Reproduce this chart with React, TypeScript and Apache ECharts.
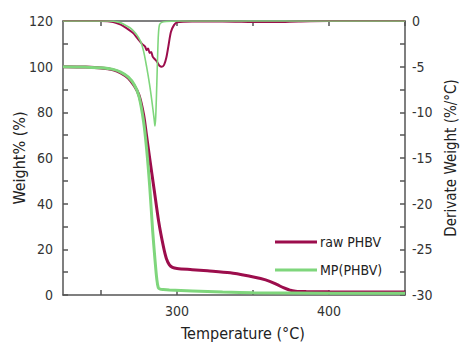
import React, { useEffect, useRef } from "react";
import * as echarts from "echarts";

const rawTGT = [225, 240, 250, 258, 263, 268, 272, 275, 278, 280, 282, 285, 288, 291, 293, 295, 297, 300, 310, 320, 335, 348, 355, 361, 366, 370, 374, 378, 385, 400, 450];
const rawTGW = [100, 99.8, 99.4, 98.6, 97.3, 95, 91.5, 87.5, 79, 69.6, 60, 46, 32, 21.4, 16, 13.2, 12.1, 11.6, 11.1, 10.6, 9.7, 8.2, 7.2, 6.0, 4.5, 3.2, 2.2, 1.7, 1.5, 1.4, 1.3];

const mpTGT = [225, 240, 250, 258, 263, 268, 272, 275, 278, 280, 282, 284, 285.5, 286.7, 287.7, 289, 291, 295, 310, 330, 350, 400, 450];
const mpTGW = [100, 99.8, 99.5, 98.8, 97.6, 95.4, 92, 87, 76, 64, 48, 28, 15.6, 7, 3.2, 2.6, 2.4, 2.2, 1.8, 1.3, 1.0, 0.8, 0.8];

const rawDTGT = [225, 250, 258, 263, 267, 271, 274, 277, 279, 280, 281, 282, 283, 284, 285.5, 287, 288.5, 290, 291.5, 293, 294.5, 296, 298, 300, 310, 330, 350, 365, 380, 400, 450];
const rawDTGD = [0, 0, -0.1, -0.4, -0.8, -1.3, -1.9, -2.5, -2.8, -3.2, -3.0, -3.5, -3.4, -3.9, -4.2, -4.5, -4.9, -5.0, -4.8, -4.0, -2.6, -1.2, -0.45, -0.15, -0.05, -0.05, -0.1, -0.12, -0.05, 0, 0];

const mpDTGT = [225, 255, 262, 266, 270, 273, 276, 278, 280, 282, 283.5, 285, 285.5, 286, 286.7, 287.3, 287.8, 288.5, 290, 293, 300, 450];
const mpDTGD = [0, 0, -0.15, -0.45, -0.85, -1.4, -2.2, -3.3, -5.0, -7.0, -8.8, -10.8, -11.5, -10.5, -7, -3.5, -1.4, -0.4, -0.15, -0.05, 0, 0];

const xTicks = [250, 300, 350, 400, 450];
const xLabels = [300, 400];

const RAW = "#9c0d4c";
const MP = "#7fd67c";
const FONT = "'DejaVu Sans Condensed', Roboto, sans-serif";
const AX = "#555";

const zip = (a: number[], b: number[]) => a.map((v, i) => [v, b[i]]);

export default function App() {
  const ref = useRef<HTMLDivElement>(null);
  useEffect(() => {
    const chart = echarts.init(ref.current!, null, { renderer: "svg" });
    const axisLine = { show: true, lineStyle: { color: AX, width: 1.5 } };
    chart.setOption({
      animation: false,
      grid: { left: 63, right: 55, top: 21, bottom: 52, containLabel: false, outerBoundsMode: "none" },
      legend: {
        data: ["raw PHBV", "MP(PHBV)"],
        orient: "vertical",
        left: 270,
        top: 230,
        icon: "rect",
        itemWidth: 42,
        itemHeight: 3,
        itemGap: 14,
        textStyle: { fontFamily: FONT, fontSize: 14, color: "#222", padding: [0, 0, 0, -2] },
      },
      xAxis: [
        {
          type: "value",
          min: 225,
          max: 450,
          position: "bottom",
          axisLine,
          splitLine: { show: false },
          axisTick: { show: true, inside: true, length: 5, customValues: xTicks, lineStyle: { color: AX, width: 1.5 } },
          axisLabel: { customValues: xLabels, fontFamily: FONT, fontSize: 14, color: "#333", margin: 9 },
          name: "Temperature (°C)",
          nameLocation: "middle",
          nameGap: 30,
          nameTextStyle: { fontFamily: FONT, fontSize: 16, color: "#222", padding: [0, 0, 0, 18] },
        },
        {
          type: "value",
          min: 225,
          max: 450,
          position: "top",
          axisLine,
          splitLine: { show: false },
          axisTick: { show: true, inside: true, length: 5, customValues: xTicks, lineStyle: { color: AX, width: 1.5 } },
          axisLabel: { show: false },
        },
      ],
      yAxis: [
        {
          type: "value",
          min: 0,
          max: 120,
          interval: 20,
          position: "left",
          axisLine,
          splitLine: { show: false },
          axisTick: { show: true, inside: true, length: 5, lineStyle: { color: AX, width: 1.5 } },
          minorTick: { show: true, splitNumber: 2, length: 5, lineStyle: { color: AX, width: 1.5 } },
          axisLabel: { fontFamily: FONT, fontSize: 14, color: "#333", margin: 10 },
          name: "Weight% (%)",
          nameLocation: "middle",
          nameGap: 36,
          nameMoveOverlap: false,
          nameTextStyle: { fontFamily: FONT, fontSize: 16, color: "#222" },
        },
        {
          type: "value",
          min: -30,
          max: 0,
          interval: 5,
          position: "right",
          axisLine,
          splitLine: { show: false },
          axisTick: { show: true, inside: true, length: 5, lineStyle: { color: AX, width: 1.5 } },
          minorTick: { show: true, splitNumber: 2, length: 5, lineStyle: { color: AX, width: 1.5 } },
          axisLabel: { fontFamily: FONT, fontSize: 14, color: "#333", margin: 7 },
          name: "Derivate Weight (%/°C)",
          nameLocation: "middle",
          nameGap: 33,
          nameRotate: 90,
          nameTextStyle: { fontFamily: FONT, fontSize: 15, color: "#222" },
        },
      ],
      series: [
        {
          name: "raw PHBV DTG",
          type: "line",
          yAxisIndex: 1,
          showSymbol: false,
          smooth: 0.3,
          data: zip(rawDTGT, rawDTGD),
          lineStyle: { color: RAW, width: 2 },
          itemStyle: { color: RAW },
        },
        {
          name: "MP(PHBV) DTG",
          type: "line",
          yAxisIndex: 1,
          showSymbol: false,
          smooth: 0.3,
          data: zip(mpDTGT, mpDTGD),
          lineStyle: { color: MP, width: 1.6 },
          itemStyle: { color: MP },
        },
        {
          name: "raw PHBV",
          type: "line",
          yAxisIndex: 0,
          showSymbol: false,
          smooth: 0.3,
          data: zip(rawTGT, rawTGW),
          lineStyle: { color: RAW, width: 3 },
          itemStyle: { color: RAW },
        },
        {
          name: "MP(PHBV)",
          type: "line",
          yAxisIndex: 0,
          showSymbol: false,
          smooth: 0.3,
          data: zip(mpTGT, mpTGW),
          lineStyle: { color: MP, width: 3 },
          itemStyle: { color: MP },
        },
      ],
    });
    return () => chart.dispose();
  }, []);
  return <div ref={ref} style={{ width: 460, height: 347, position: "absolute", left: 0, top: 0 }} />;
}
